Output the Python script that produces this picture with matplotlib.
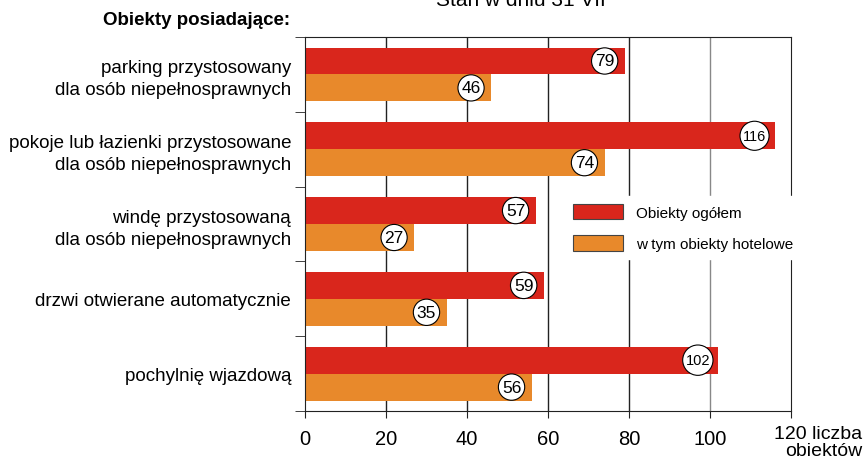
import numpy as np
import matplotlib.pyplot as plt

plt.rcParams['font.family'] = ['Liberation Sans', 'DejaVu Sans']

categories = ["parking przystosowany\ndla osób niepełnosprawnych",
              "pokoje lub łazienki przystosowane\ndla osób niepełnosprawnych",
              "windę przystosowaną\ndla osób niepełnosprawnych",
              "drzwi otwierane automatycznie",
              "pochylnię wjazdową"]
ogolem = [79, 116, 57, 59, 102]
hotelowe = [46, 74, 27, 35, 56]
xticks = [0, 20, 40, 60, 80, 100, 120]

red = "#D9261C"
orange = "#E8892B"

fig = plt.figure(figsize=(8.64, 4.64), dpi=100)
ax = fig.add_axes([0.353, 0.112, 0.5625, 0.806])

y = np.arange(len(categories))
h = 0.36
ax.barh(y - h / 2, ogolem, height=h, color=red, zorder=2, label="Obiekty ogółem")
ax.barh(y + h / 2, hotelowe, height=h, color=orange, zorder=2, label="w tym obiekty hotelowe")

# circled value labels near bar ends
for yy, v in zip(y - h / 2, ogolem):
    ax.text(v - 5, yy, str(v), ha="center", va="center", fontsize=12.5 if v < 100 else 10.5,
            zorder=4, bbox=dict(boxstyle="circle,pad=0.2", fc="white", ec="black", lw=0.8))
for yy, v in zip(y + h / 2, hotelowe):
    ax.text(v - 5, yy, str(v), ha="center", va="center", fontsize=12.5,
            zorder=4, bbox=dict(boxstyle="circle,pad=0.2", fc="white", ec="black", lw=0.8))

ax.set_xlim(0, 120)
ax.set_ylim(len(categories) - 0.5, -0.5)
ax.set_xticks(xticks)
ax.set_xticklabels([str(t) for t in xticks[:-1]] + [""])
ax.tick_params(axis="x", labelsize=14.5, length=5, direction="out", pad=8, color="#222222")
for t in xticks[1:-1]:
    ax.axvline(t, color="#888888" if t == 100 else "#222222", lw=1, zorder=1)

ax.set_yticks(y)
ax.set_yticklabels(categories, fontsize=13.5, linespacing=1.35)
ax.tick_params(axis="y", length=0, pad=10)
ax.set_yticks(np.arange(len(categories) + 1) - 0.5, minor=True)
ax.tick_params(axis="y", which="minor", length=7, direction="out", color="#222222")

for s in ["top", "left", "bottom", "right"]:
    ax.spines[s].set_color("#222222")

leg = ax.legend(loc="upper left", bbox_to_anchor=(0.52, 0.595), frameon=True, fontsize=11,
                handlelength=3.3, handleheight=1.2, labelspacing=1.0, borderpad=0.5)
leg.get_frame().set_edgecolor("white")
leg.get_frame().set_facecolor("white")
leg.get_frame().set_alpha(1)
for p in leg.get_patches():
    p.set_edgecolor("#444444")
    p.set_linewidth(0.8)

fig.text(0.603, 1.0, "Stan w dniu 31 VII", ha="center", va="center", fontsize=15)
fig.text(0.336, 0.955, "Obiekty posiadające:", ha="right", va="center", fontsize=13.5, fontweight="bold")
fig.text(0.998, 0.045, "120 liczba\nobiektów", ha="right", va="center", fontsize=14,
         linespacing=0.95)

fig.savefig("out.png", dpi=100)
